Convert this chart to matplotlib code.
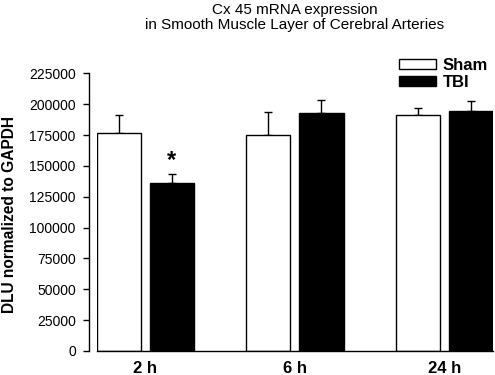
import matplotlib
matplotlib.use("Agg")
import matplotlib.pyplot as plt
import numpy as np
from matplotlib.patches import Patch

plt.rcParams['font.family'] = ['Liberation Sans', 'DejaVu Sans']

groups = ["2 h", "6 h", "24 h"]
sham_mean = [176300, 175200, 191150]
sham_err = [14850, 18100, 5650]
tbi_mean = [136250, 192800, 194400]
tbi_err = [7300, 10500, 8350]
series_labels = ["Sham", "TBI"]
yticks = [0, 25000, 50000, 75000, 100000, 125000, 150000, 175000, 200000, 225000]
title = "Cx 45 mRNA expression\nin Smooth Muscle Layer of Cerebral Arteries"
ylabel = "DLU normalized to GAPDH"

fig = plt.figure(figsize=(4.95, 3.75), dpi=100)
ax = fig.add_axes([96.7/495, (375-351)/375, (493-96.7)/495, (351-73.3)/375])

x = np.arange(len(groups))
w = 0.295
off = 0.178
ax.bar(x - off, sham_mean, w, color='white', edgecolor='black', linewidth=1.0, zorder=2)
ax.bar(x + off, tbi_mean, w, color='black', edgecolor='black', linewidth=1.0, zorder=2)
ax.errorbar(x - off, sham_mean, yerr=[np.zeros(3), sham_err], fmt='none', ecolor='black',
            elinewidth=1.0, capsize=2.9, capthick=1.0, zorder=1)
ax.errorbar(x + off, tbi_mean, yerr=[np.zeros(3), tbi_err], fmt='none', ecolor='black',
            elinewidth=1.0, capsize=2.9, capthick=1.0, zorder=1)

ax.text(x[0] + off, tbi_mean[0] + tbi_err[0] + 1500, "*", ha='center', va='bottom',
        fontsize=17, fontweight='bold')

ax.set_xlim(-off - w/2, 2 + off + w/2)
ax.set_ylim(0, 225000)
ax.set_yticks(yticks)
ax.set_yticklabels([str(v) for v in yticks], fontsize=12)
ax.set_xticks(x)
ax.set_xticklabels(groups, fontsize=12, fontweight='bold')
ax.tick_params(axis='x', length=0, pad=7)
ax.tick_params(axis='y', length=4, width=1.0, pad=5.5)

for s in ['top', 'right']:
    ax.spines[s].set_visible(False)
ax.spines['left'].set_position(('outward', 5.5))
ax.spines['left'].set_linewidth(1.0)
ax.spines['bottom'].set_linewidth(1.0)

ax.set_ylabel(ylabel, fontsize=11.2, fontweight='bold')
ax.yaxis.set_label_coords(-0.2, 0.49)

fig.text(295/495, 1 - 3/375, title, ha='center', va='top', fontsize=11, linespacing=1.05)

handles = [Patch(facecolor='white', edgecolor='black', linewidth=1.0),
           Patch(facecolor='black', edgecolor='black', linewidth=1.0)]
leg = fig.legend(handles, series_labels, loc='upper left', bbox_to_anchor=(399/495, 1 - 58/375),
                 frameon=False, borderpad=0, borderaxespad=0, handlelength=2.2, handleheight=0.48,
                 handletextpad=0.42, labelspacing=0.12, prop={'size': 12, 'weight': 'bold'})

fig.savefig("out.png", dpi=100)
